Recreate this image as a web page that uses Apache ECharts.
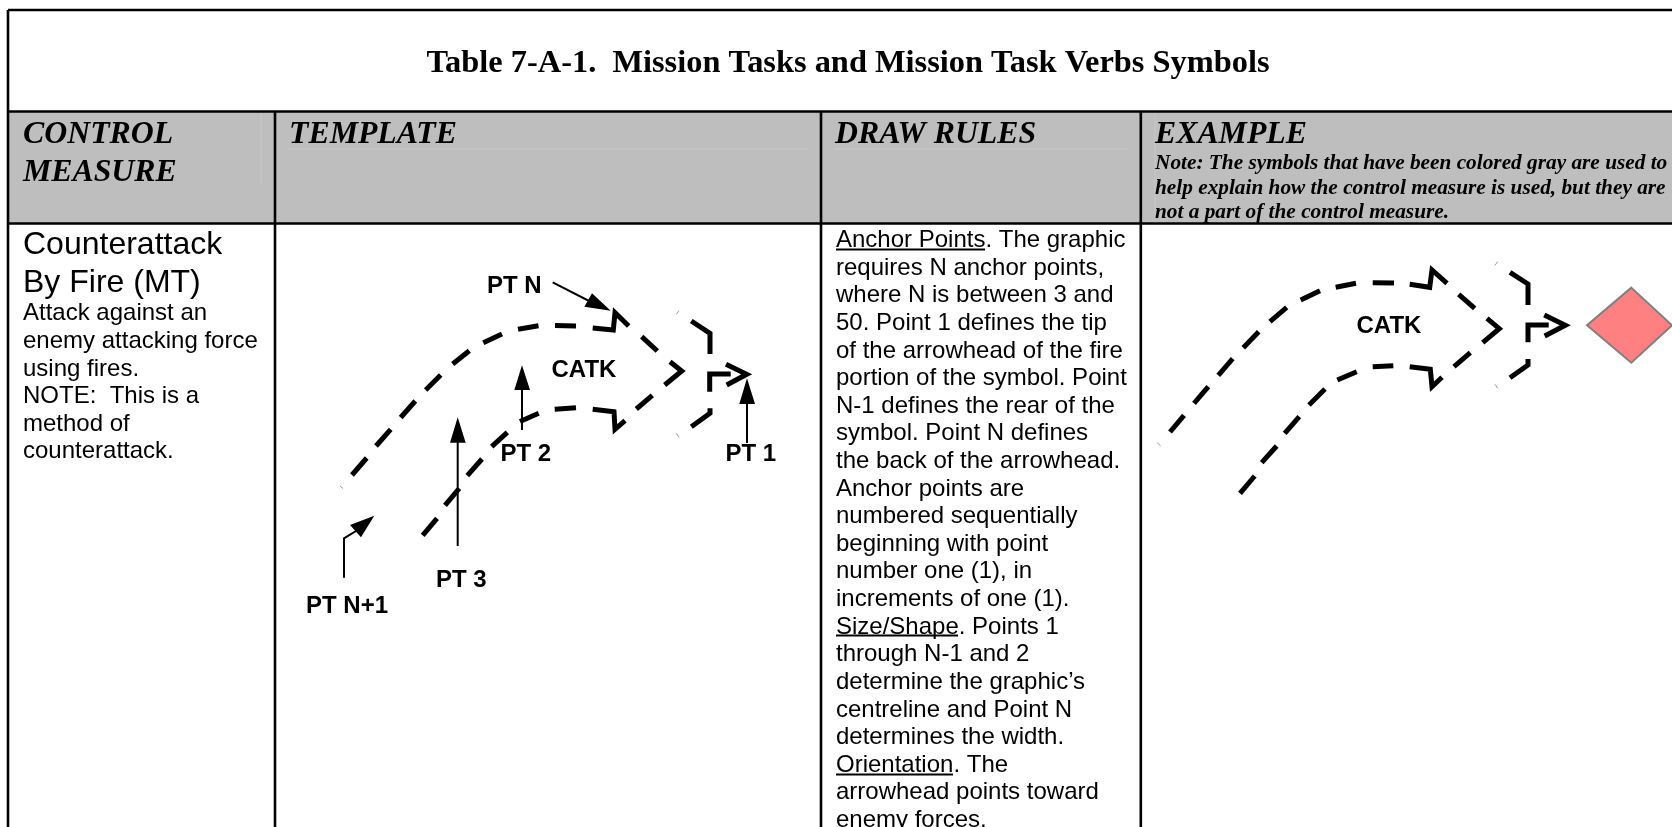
<!DOCTYPE html>
<html>
<head>
<meta charset="utf-8">
<style>html,body{margin:0;padding:0;background:#fff;overflow:hidden}#c{width:1672px;height:827px}</style>
<script src="https://cdn.jsdelivr.net/npm/echarts@6/dist/echarts.min.js"></script>
</head>
<body>
<div id="c"></div>
<script>
// ---- text content ----
const titleText = 'Table 7-A-1.  Mission Tasks and Mission Task Verbs Symbols';
const controlHeader = ['CONTROL', 'MEASURE'];
const templateHeader = 'TEMPLATE';
const rulesHeader = 'DRAW RULES';
const exampleHeader = 'EXAMPLE';
const exampleNote = [
  'Note: The symbols that have been colored gray are used to',
  'help explain how the control measure is used, but they are',
  'not a part of the control measure.'
];
const measureName = ['Counterattack', 'By Fire (MT)'];
const measureText = ['Attack against an', 'enemy attacking force', 'using fires.', 'NOTE:  This is a', 'method of', 'counterattack.'];
const ruleLines = [
  'Anchor Points. The graphic', 'requires N anchor points,', 'where N is between 3 and',
  '50. Point 1 defines the tip', 'of the arrowhead of the fire', 'portion of the symbol. Point',
  'N-1 defines the rear of the', 'symbol. Point N defines', 'the back of the arrowhead.',
  'Anchor points are', 'numbered sequentially', 'beginning with point',
  'number one (1), in', 'increments of one (1).', 'Size/Shape. Points 1',
  'through N-1 and 2', 'determine the graphic\u2019s', 'centreline and Point N',
  'determines the width.', 'Orientation. The', 'arrowhead points toward', 'enemy forces.'
];
// template labels and their [x, baseline]
const templateLabels = [['PT N', 487, 292], ['CATK', 551.5, 376], ['PT 2', 500.5, 460], ['PT 1', 725.5, 460], ['PT 3', 436, 586], ['PT N+1', 306, 612]];
const exampleLabels = [['CATK', 1356.5, 332]];

// ---- table rules, in page pixels ----
const frameLines = [
  [[8, 10], [1672, 10]], [[8, 111.5], [1672, 111.5]], [[8, 223.5], [1672, 223.5]],
  [[8, 10], [8, 827]], [[275, 111.5], [275, 827]], [[821, 111.5], [821, 827]], [[1140.8, 111.5], [1140.8, 827]]
];
const faintLines = [
  [[261, 113], [261, 185]], [[288, 149], [808, 149]], [[834, 149], [1127, 149]], [[1155, 113], [1155, 223]]
];
const underlines = [[[836, 249.5], [985, 249.5]], [[836, 635.5], [958, 635.5]], [[836, 774.5], [953, 774.5]]];
const headerBand = [[8, 111.5], [1672, 111.5], [1672, 223.5], [8, 223.5]];

// ---- template symbol dashes ----
const templateDashes = [
  [[352, 475], [366.7, 458]], [[376, 446], [390.7, 429.3]], [[400.7, 417.5], [415.3, 401]],
  [[425.7, 390], [440.7, 375]], [[452.7, 364], [469.3, 350.7]], [[483.3, 342.7], [502, 334]],
  [[518, 329.3], [538.5, 325.8]], [[555, 325.5], [576, 326]],
  [[592.7, 328], [613.3, 330], [615, 312.7], [628.7, 326]],
  [[641.7, 336.7], [657.3, 351]], [[670, 361.7], [681.7, 371], [664.7, 385]],
  [[652.3, 395.3], [636.3, 409]], [[625, 420.7], [615, 429.3], [614, 411.7], [592.7, 409.3]],
  [[576, 407.7], [554.7, 409.3]], [[538.7, 413.3], [520, 421.5]],
  [[507.3, 432.3], [491.7, 446.7]], [[482, 459], [467.3, 475.7]],
  [[459.3, 488.3], [445, 505.3]], [[437, 518.3], [422.7, 535.3]],
  [[691.3, 321], [710, 333.3], [710, 354]],
  [[709.7, 391.7], [709.7, 374], [730.7, 374]],
  [[726, 364.3], [746.7, 374.3], [726.7, 385]],
  [[710, 408.3], [710, 413.3], [691.3, 426.7]]
];
const templateSpecks = [[[340, 486], [343, 488.5]], [[679, 310.7], [676.3, 314.3]], [[676.3, 433.3], [679, 437.3]]];
const leaderLines = [
  [[552.7, 282.3], [595, 304]], [[522, 430], [522, 388]], [[457.7, 546], [457.7, 440]],
  [[747, 443], [747, 402]], [[344, 577.7], [344, 538.3], [356, 531]]
];
const leaderHeads = [
  [[610.7, 310.7], [592, 293.3], [584.3, 306.7]],
  [[522, 365.3], [514.3, 390], [530, 390]],
  [[457.7, 417.3], [450, 442.7], [465.7, 442.7]],
  [[747, 378.3], [739.3, 404], [755, 404]],
  [[374.3, 515.7], [350, 525], [361, 537.3]]
];

// ---- example symbol dashes ----
const exampleDashes = [
  [[1170, 432], [1184, 415.3]], [[1194, 403.3], [1208.3, 386.7]], [[1218.3, 375.3], [1232.7, 358.7]],
  [[1243.3, 347.7], [1258.7, 331.7]], [[1270, 321.7], [1286.7, 307.3]], [[1300.7, 300], [1320, 290.7]],
  [[1335.7, 287.3], [1356, 283.3]], [[1372.7, 282.7], [1394, 283]],
  [[1409.7, 284.3], [1429.7, 287.3], [1432, 270], [1447, 283.3]],
  [[1458.7, 294.3], [1474.7, 308.3]], [[1487, 318.3], [1499.3, 328.7], [1482.7, 342.7]],
  [[1470.3, 352.7], [1454, 366.7]], [[1442, 377.3], [1432, 386.7], [1430.3, 369.3], [1409.7, 366.7]],
  [[1393.3, 365.7], [1372.7, 366.7]], [[1356.7, 371.7], [1337.3, 380]], [[1325, 389], [1309, 405]],
  [[1299.3, 416.7], [1284.7, 433.3]], [[1276.7, 446], [1261.7, 462.7]], [[1254.7, 476], [1240, 493.3]],
  [[1510, 272.3], [1528, 284], [1528, 305]],
  [[1528, 342.3], [1528, 325], [1548.7, 325]],
  [[1544.3, 315], [1565.3, 325.3], [1544.7, 336]],
  [[1528, 359], [1528, 365], [1510, 377.7]]
];
const exampleSpecks = [[[1157.3, 442.7], [1160.7, 446]], [[1497.7, 261.7], [1495, 265.3]], [[1495, 384.3], [1497.7, 388.3]]];
const enemyDiamond = [[1631.3, 287.7], [1672, 325.3], [1631.3, 362.7], [1587, 325.3]];

// ---- text styling & placement ----
const SANS = '"Liberation Sans", Arial, sans-serif';
const SERIF = '"Liberation Serif", "Times New Roman", serif';
function T(text, x, base, font, size, style, align) {
  return { text, x, base, font, size, style: style || 'normal', align: align || 'left' };
}
const texts = [];
texts.push(T(titleText, 848, 72, SERIF, 32.4, 'bold', 'center'));
controlHeader.forEach((s, i) => texts.push(T(s, 23, 142.3 + i * 38, SERIF, 31.8, 'italic bold')));
texts.push(T(templateHeader, 289, 142.3, SERIF, 31.8, 'italic bold'));
texts.push(T(rulesHeader, 835, 142.3, SERIF, 31.8, 'italic bold'));
texts.push(T(exampleHeader, 1155, 142.3, SERIF, 31.8, 'italic bold'));
exampleNote.forEach((s, i) => texts.push(T(s, 1155, 168 + i * 24.5, SERIF, 21.3, 'italic bold')));
measureName.forEach((s, i) => texts.push(T(s, 23, 253 + i * 38.5, SANS, 32)));
measureText.forEach((s, i) => texts.push(T(s, 23, 319 + i * 27.6, SANS, 24)));
ruleLines.forEach((s, i) => texts.push(T(s, 836, 245.7 + i * 27.62, SANS, 24)));
templateLabels.concat(exampleLabels).forEach(l => texts.push(T(l[0], l[1], l[2], SANS, 24, 'bold')));

function pathSeries(name, paths, width, color, z) {
  return {
    type: 'lines', name, coordinateSystem: 'cartesian2d', polyline: true, silent: true, z,
    lineStyle: { color, width, opacity: 1, cap: 'butt', join: 'miter' },
    data: paths.map(p => ({ coords: p }))
  };
}
function polySeries(name, polys, style, z) {
  return {
    type: 'custom', name, coordinateSystem: 'cartesian2d', silent: true, z, clip: true,
    data: polys.map((p, i) => [p[0][0], p[0][1], i]),
    renderItem(params, api) {
      const pts = polys[params.dataIndex].map(c => api.coord(c));
      return { type: 'polygon', shape: { points: pts }, style };
    }
  };
}
const textSeries = {
  type: 'custom', name: 'text', coordinateSystem: 'cartesian2d', silent: true, z: 10,
  data: texts.map(t => [t.x, t.base]),
  renderItem(params, api) {
    const t = texts[params.dataIndex];
    const p = api.coord([t.x, t.base]);
    return {
      type: 'text',
      style: {
        text: t.text, x: p[0], y: p[1] - t.size * 0.345 + 3, fill: '#000',
        font: t.style + ' ' + t.size + 'px ' + t.font,
        textAlign: t.align, textVerticalAlign: 'middle'
      }
    };
  }
};

const chart = echarts.init(document.getElementById('c'), null, { renderer: 'canvas' });
chart.setOption({
  animation: false,
  backgroundColor: '#fff',
  grid: { left: 0, right: 0, top: 0, bottom: 0 },
  xAxis: { type: 'value', min: 0, max: 1672, show: false },
  yAxis: { type: 'value', min: 0, max: 827, inverse: true, show: false },
  tooltip: { show: false },
  series: [
    polySeries('header band', [headerBand], { fill: '#bebebe' }, 1),
    pathSeries('header rules', faintLines, 1, '#c9c9c9', 2),
    pathSeries('frame', frameLines, 2.6, '#000', 3),
    pathSeries('template dashes', templateDashes, 5, '#000', 4),
    pathSeries('template specks', templateSpecks, 1, '#999', 4),
    pathSeries('leaders', leaderLines, 2, '#000', 5),
    polySeries('leader heads', leaderHeads, { fill: '#000' }, 5),
    pathSeries('example dashes', exampleDashes, 5, '#000', 4),
    pathSeries('example specks', exampleSpecks, 1, '#999', 4),
    polySeries('enemy', [enemyDiamond], { fill: '#ff8080', stroke: '#808080', lineWidth: 2 }, 4),
    pathSeries('underlines', underlines, 2, '#000', 9),
    textSeries
  ]
});
</script>
</body>
</html>
